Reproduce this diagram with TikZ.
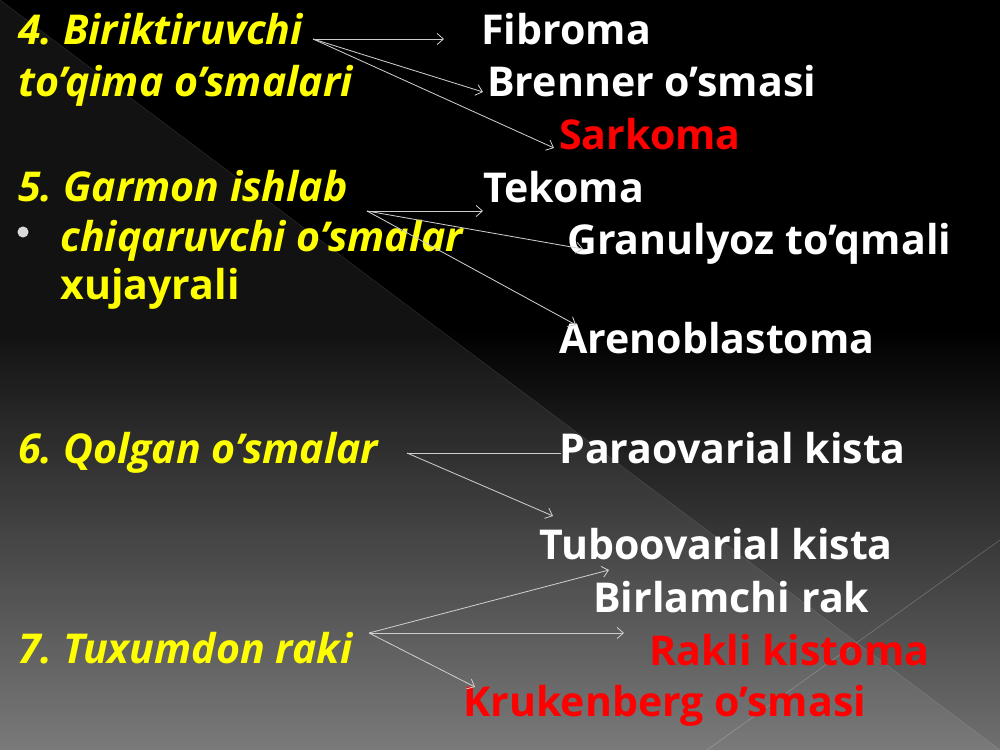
\documentclass[tikz,border=0pt]{standalone}
\usepackage{fontspec}
\setmainfont{Open Sans}
\usepackage{xcolor}
\usetikzlibrary{arrows.meta, positioning}
\frenchspacing

\definecolor{slideyellow}{RGB}{255,255,0}
\definecolor{slidered}{RGB}{255,0,0}
\definecolor{linkgray}{RGB}{205,205,205}
\definecolor{bottomgray}{RGB}{112,112,112}

\tikzset{
  kind/.style={anchor=base west, inner sep=0pt, text=slideyellow, font=\fontsize{29.6}{35}\selectfont\bfseries\itshape},
  kindup/.style={kind, font=\fontsize{29.6}{35}\selectfont\bfseries},
  item/.style={anchor=base west, inner sep=0pt, text=white, font=\fontsize{29.6}{35}\selectfont\bfseries},
  reditem/.style={item, text=slidered},
  link/.style={draw=linkgray, line width=0.6pt, -{Straight Barb[length=4.5pt, width=8pt]}},
}

\begin{document}
\begin{tikzpicture}[x=0.72pt,y=0.72pt,yscale=-1,xscale=1]
\useasboundingbox (0,0) rectangle (1000,750);

%Background
\fill[black] (0,0) rectangle (1000,750);
\shade[top color=black, bottom color=bottomgray] (0,330) rectangle (1000,750.5);
\fill[white, opacity=0.07] (0,0) -- (1000,750) -- (0,750) -- cycle;
\draw[white, opacity=0.12, line width=0.4pt] (0,0) -- (1000,750);
\draw[white, opacity=0.25, line width=0.4pt] (707,750) -- (1000,540);

% Text Node
\node[kind] (b4) at (18,45) {4. Biriktiruvchi};
% Text Node
\node[kind] (b4b) at (18,97) {to’qima o’smalari};
% Text Node
\node[kind] (b5) at (18,202) {5. Garmon ishlab};
% Text Node
\node[circle, fill=white!85!black, inner sep=0pt, minimum size=8] (bul) at (23,232) {};
% Text Node
\node[kind] (b5b) at (60,252) {chiqaruvchi o’smalar};
% Text Node
\node[kindup] (b5c) at (60,299) {xujayrali};
% Text Node
\node[kind] (b6) at (18,463) {6. Qolgan o’smalar};
% Text Node
\node[kind] (b7) at (18,663) {7. Tuxumdon raki};

% Text Node
\node[item] (fib) at (481,45) {Fibroma};
% Text Node
\node[item] (bren) at (487,97) {Brenner o’smasi};
% Text Node
\node[reditem] (sark) at (559,150) {Sarkoma};
% Text Node
\node[item] (tek) at (483,203) {Tekoma};
% Text Node
\node[item] (gran) at (567,255) {Granulyoz to’qmali};
% Text Node
\node[item] (aren) at (559,353) {Arenoblastoma};
% Text Node
\node[item] (para) at (559,463) {Paraovarial kista};
% Text Node
\node[item] (tubo) at (539,559) {Tuboovarial kista};
% Text Node
\node[item] (birl) at (593,612) {Birlamchi rak};
% Text Node
\node[reditem] (rakl) at (649,665) {Rakli kistoma};
% Text Node
\node[reditem] (kruk) at (463,716) {Krukenberg o’smasi};

%Straight Lines
\coordinate (o4) at (313,39);
\coordinate (o5) at (367,211);
\coordinate (o6) at (407,453);
\coordinate (o7) at (369,633);
\coordinate (t-fib) at (444,39);
\coordinate (t-bren) at (483,92);
\coordinate (t-sark) at (554,148);
\coordinate (t-tek) at (483,211);
\coordinate (t-gran) at (583,249);
\coordinate (t-aren) at (576,325);
\coordinate (t-para) at (561,453);
\coordinate (t-tubo) at (553,516);
\coordinate (t-birl) at (609,570);
\coordinate (t-rakl) at (624,633);
\coordinate (t-kruk) at (475,687);

\draw[link] (o4) -- (t-fib);
\draw[link] (o4) -- (t-bren);
\draw[link] (o4) -- (t-sark);
\draw[link] (o5) -- (t-tek);
\draw[link] (o5) -- (t-gran);
\draw[link] (o5) -- (t-aren);
\draw[link, -] (o6) -- (t-para);
\draw[link] (o6) -- (t-tubo);
\draw[link] (o7) -- (t-birl);
\draw[link] (o7) -- (t-rakl);
\draw[link] (o7) -- (t-kruk);

\end{tikzpicture}
\end{document}
